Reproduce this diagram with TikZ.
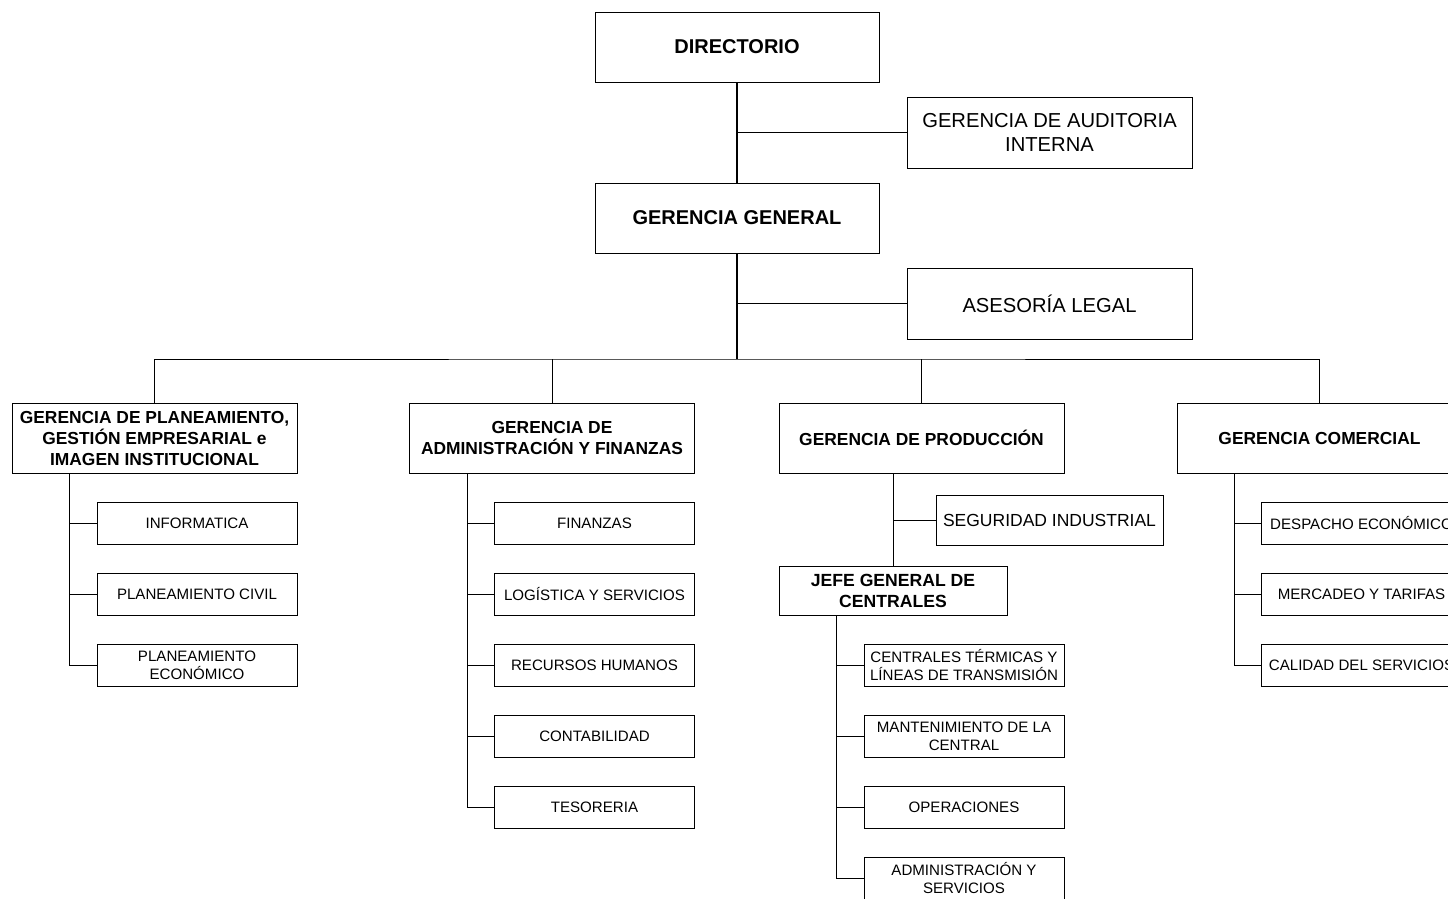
\documentclass[tikz,border=0pt]{standalone}
\usepackage{fontspec}
\setmainfont{Liberation Sans}
\usepackage{tikz}
\usepackage{xcolor}
\tikzset{
    head-box/.style = {draw, thin, rectangle, inner sep=0pt, minimum width=284pt, minimum height=70pt, align=center, font=\fontsize{20}{24}\selectfont\bfseries},
    side-box/.style = {draw, thin, rectangle, inner sep=0pt, minimum width=285pt, minimum height=71pt, align=center, font=\fontsize{20.2}{24}\selectfont},
    area-box/.style = {draw, thin, rectangle, inner sep=0pt, minimum width=285pt, minimum height=70pt, align=center, font=\fontsize{17.4}{21}\selectfont\bfseries},
    unit-box/.style = {draw, thin, rectangle, inner sep=0pt, minimum width=200pt, minimum height=42pt, align=center, font=\fontsize{15.1}{18}\selectfont},
    link/.style = {draw, line width=1pt},
}

\begin{document}
\begin{tikzpicture}[x=1pt, y=-1pt, line width=1pt]
\useasboundingbox (0,0) rectangle (1448,898);

\node [head-box] (dir) at (737,47) {DIRECTORIO};
\node [side-box] (aud) at (1049.5,132.5) {GERENCIA DE AUDITORIA\\INTERNA};
\node [head-box] (gg) at (737,218) {GERENCIA GENERAL};
\node [side-box] (legal) at (1049.5,303.5) {ASESOR\'IA LEGAL};

\node [area-box] (plan) at (154.5,438) {GERENCIA DE PLANEAMIENTO,\\GESTI\'ON EMPRESARIAL e\\IMAGEN INSTITUCIONAL};
\node [area-box] (adm) at (552,438) {GERENCIA DE\\ADMINISTRACI\'ON Y FINANZAS};
\node [area-box] (prod) at (921.5,438) {GERENCIA DE PRODUCCI\'ON};
\node [area-box] (com) at (1319.5,438) {GERENCIA COMERCIAL};

\node [side-box, minimum width=227pt, minimum height=50pt, font=\fontsize{17.5}{21}\selectfont] (seg) at (1049.5,520) {SEGURIDAD INDUSTRIAL};
\node [area-box, minimum width=228pt, minimum height=49pt, font=\fontsize{17.6}{21}\selectfont\bfseries] (jefe) at (893,590.5) {JEFE GENERAL DE\\CENTRALES};

\node [unit-box] (inf) at (197,523) {INFORMATICA};
\node [unit-box] (pciv) at (197,594) {PLANEAMIENTO CIVIL};
\node [unit-box] (peco) at (197,665) {PLANEAMIENTO\\ECON\'OMICO};

\node [unit-box] (fin) at (594.5,523) {FINANZAS};
\node [unit-box] (log) at (594.5,594) {LOG\'ISTICA Y SERVICIOS};
\node [unit-box] (rrhh) at (594.5,665) {RECURSOS HUMANOS};
\node [unit-box] (cont) at (594.5,736) {CONTABILIDAD};
\node [unit-box] (tes) at (594.5,807) {TESORERIA};

\node [unit-box] (cter) at (964,665) {CENTRALES T\'ERMICAS Y\\L\'INEAS DE TRANSMISI\'ON};
\node [unit-box] (mant) at (964,736) {MANTENIMIENTO DE LA\\CENTRAL};
\node [unit-box] (oper) at (964,807) {OPERACIONES};
\node [unit-box] (admserv) at (964,878) {ADMINISTRACI\'ON Y\\SERVICIOS};

\node [unit-box] (desp) at (1361.5,523) {DESPACHO ECON\'OMICO};
\node [unit-box] (merc) at (1361.5,594) {MERCADEO Y TARIFAS};
\node [unit-box] (cal) at (1361.5,665) {CALIDAD DEL SERVICIOS};

\coordinate (bus) at (737,359);
\coordinate (plan-s) at (69,473);
\coordinate (adm-s) at (467,473);
\coordinate (jefe-s) at (836,615);
\coordinate (com-s) at (1234,473);
\coordinate (prod-s) at (893,473);

\draw [link, line width=1.2pt] (dir.south) -- (gg.north);
\draw [link] (aud.west) -- (aud.west -| dir.south);
\draw [link, line width=1.8pt] (gg.south) -- (bus);
\draw [link] (legal.west) -- (legal.west -| gg.south);

\draw [link] (plan.north) |- (bus) -| (com.north);
\draw [link] (adm.north) -- (adm.north |- bus);
\draw [link] (prod.north) -- (prod.north |- bus);

\draw [link] (prod-s) -- (jefe.north);
\draw [link] (seg.west) -- (seg.west -| prod-s);

\draw [link] (plan-s) |- (peco.west);
\foreach \n in {inf, pciv}
    \draw [link] (\n.west) -- (\n.west -| plan-s);

\draw [link] (adm-s) |- (tes.west);
\foreach \n in {fin, log, rrhh, cont}
    \draw [link] (\n.west) -- (\n.west -| adm-s);

\draw [link] (jefe-s) |- (admserv.west);
\foreach \n in {cter, mant, oper}
    \draw [link] (\n.west) -- (\n.west -| jefe-s);

\draw [link] (com-s) |- (cal.west);
\foreach \n in {desp, merc}
    \draw [link] (\n.west) -- (\n.west -| com-s);
\end{tikzpicture}
\end{document}
